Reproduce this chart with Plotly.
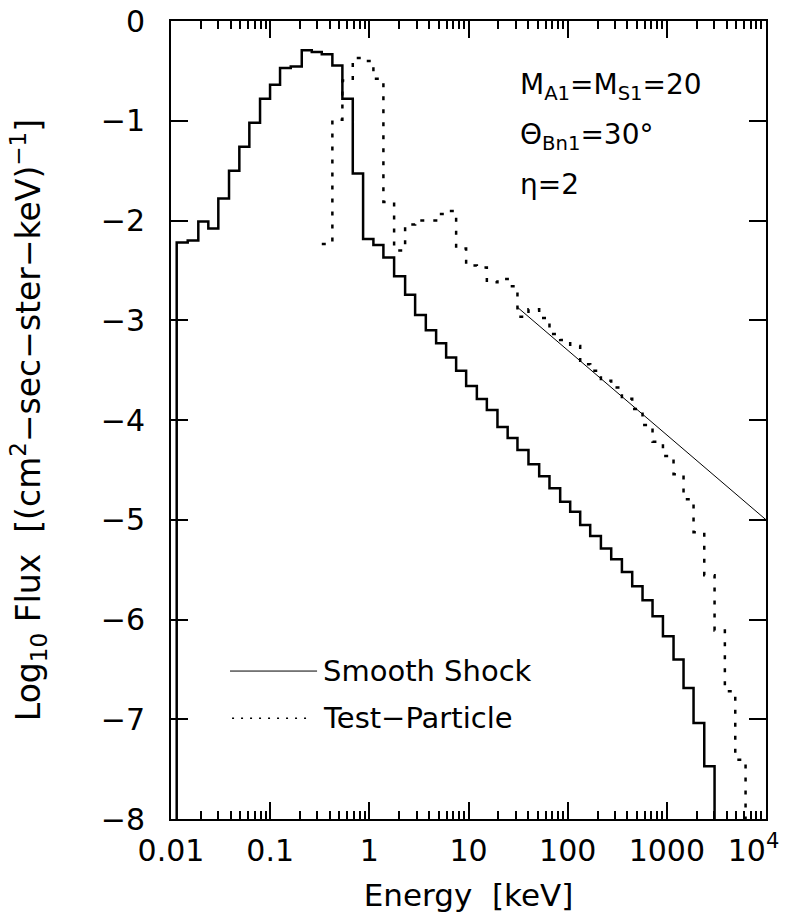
import plotly.graph_objects as go

# ---------------- data ----------------
# log10(Energy/keV) of histogram bin edges (shared by both histograms)
bin_log_edges = [
    -1.9425, -1.8315, -1.7246, -1.6237, -1.5228, -1.4149, -1.3109, -1.2100,
    -1.1021, -1.0012, -0.9003, -0.7924, -0.6814, -0.5805, -0.4796, -0.3727,
    -0.2718, -0.1669, -0.0630, 0.0410, 0.1418, 0.2498, 0.3608, 0.4617,
    0.5696, 0.6735, 0.7744, 0.8753, 0.9762, 1.0842, 1.1850, 1.2920,
    1.3949, 1.4937, 1.6047, 1.7127, 1.8166, 1.9245, 2.0254, 2.1263,
    2.2272, 2.3352, 2.4391, 2.5470, 2.6509, 2.7549, 2.8558, 2.9607,
    3.0676, 3.1685, 3.2694, 3.3774, 3.4813, 3.5851, 3.6900, 3.7940,
]

# Smooth shock: log10 flux per bin, starting at the first edge
smooth_first_edge = 0
smooth_flux = [
    -2.22, -2.20, -2.01, -2.08, -1.78, -1.50, -1.26, -1.02,
    -0.78, -0.64, -0.47, -0.455, -0.294, -0.31, -0.334, -0.445,
    -0.78, -1.53, -2.185, -2.245, -2.37, -2.56, -2.745, -2.948,
    -3.10, -3.23, -3.373, -3.507, -3.658, -3.79, -3.90, -4.07,
    -4.18, -4.30, -4.443, -4.563, -4.685, -4.82, -4.92, -5.053,
    -5.163, -5.287, -5.396, -5.525, -5.666, -5.806, -5.967, -6.168,
    -6.402, -6.687, -7.038, -7.47,
]

# Test-particle: log10 flux per bin, starting at edge index 14
tp_first_edge = 14
tp_flux = [
    -2.235, -0.99, -0.596, -0.37, -0.40, -0.58, -1.815, -2.30,
    -2.04, -2.00, -2.00, -1.935, -1.905, -2.28, -2.45, -2.47,
    -2.62, -2.586, -2.66, -2.965, -2.89, -2.978, -3.139, -3.199,
    -3.257, -3.44, -3.507, -3.607, -3.675, -3.788, -3.89, -4.05,
    -4.217, -4.36, -4.543, -4.795, -5.125, -5.556, -6.11, -6.72,
    -7.406,
]

# Power-law reference line (log10 E, log10 flux)
pl_log_energy = [1.4937, 4.0]
pl_flux = [-2.87, -5.0]

x_tick_vals = [0.01, 0.1, 1, 10, 100, 1000, 10000]
x_tick_text = ["0.01", "0.1", "1", "10", "100", "1000",
               "10<sup>4</sup>\u2007\u2009"]
y_tick_vals = [0, -1, -2, -3, -4, -5, -6, -7, -8]
y_tick_text = ["0", "\u22121", "\u22122", "\u22123", "\u22124", "\u22125",
               "\u22126", "\u22127", "\u22128"]

FLOOR = -9.0  # below the axis, so the histogram drops off the plot


def step_path(first_edge, values, start_from_floor, end_to_floor):
    edges = [10 ** e for e in bin_log_edges[first_edge:first_edge + len(values) + 1]]
    xs = list(edges[:len(values)])
    ys = list(values)
    if start_from_floor:
        xs = [edges[0]] + xs
        ys = [FLOOR] + ys
    xs = xs + [edges[len(values)]]
    ys = ys + [FLOOR if end_to_floor else values[-1]]
    return xs, ys


FONT = "DejaVu Sans"

fig = go.Figure()

sx, sy = step_path(smooth_first_edge, smooth_flux, True, True)
fig.add_trace(go.Scatter(x=sx, y=sy, mode="lines", line_shape="hv",
                         line=dict(color="black", width=2.5),
                         name="Smooth Shock", showlegend=False))

tx, ty = step_path(tp_first_edge, tp_flux, False, True)
fig.add_trace(go.Scatter(x=tx, y=ty, mode="lines", line_shape="hv",
                         line=dict(color="black", width=2.5, dash="4px,9px"),
                         name="Test-Particle", showlegend=False))

fig.add_trace(go.Scatter(x=[10 ** e for e in pl_log_energy], y=pl_flux,
                         mode="lines", line=dict(color="black", width=1),
                         showlegend=False))

axis_common = dict(
    showline=True, linecolor="black", linewidth=2, mirror="ticks",
    ticks="inside", ticklen=17, tickwidth=1.5, tickcolor="black",
    showgrid=False, zeroline=False, automargin=False,
    ticklabeloverflow="allow",
    tickfont=dict(family=FONT, size=30, color="black"),
)

fig.update_xaxes(
    type="log", range=[-2, 4],
    tickvals=x_tick_vals, ticktext=x_tick_text,
    minor=dict(ticks="inside", ticklen=8, tickwidth=1.5, tickcolor="black",
               dtick="D1", showgrid=False),
    title=dict(text="Energy  [keV]", font=dict(family=FONT, size=31, color="black"),
               standoff=17),
    ticklabelstandoff=4,
    **axis_common,
)
fig.update_yaxes(
    range=[-8, 0],
    tickvals=y_tick_vals, ticktext=y_tick_text,
    title=dict(text="Log<sub>10</sub> Flux  [(cm<sup>2</sup>\u2212sec\u2212ster\u2212keV)<sup>\u22121</sup>]",
               font=dict(family=FONT, size=33, color="black"), standoff=50),
    ticklabelstandoff=18,
    **axis_common,
)

# legend drawn as paper-anchored samples + labels
fig.add_shape(type="line", xref="paper", yref="paper",
              x0=0.0992, x1=0.2455, y0=0.1854, y1=0.1854,
              line=dict(color="black", width=1))
fig.add_shape(type="line", xref="paper", yref="paper",
              x0=0.1026, x1=0.2337, y0=0.1261, y1=0.1261,
              line=dict(color="black", width=1.5, dash="2px,7px"))
fig.add_annotation(xref="paper", yref="paper", x=0.2517, y=0.1854,
                   xanchor="left", yanchor="middle", showarrow=False,
                   text="Smooth Shock", font=dict(family=FONT, size=29, color="black"))
fig.add_annotation(xref="paper", yref="paper", x=0.2517, y=0.1261,
                   xanchor="left", yanchor="middle", showarrow=False,
                   text="Test\u2212Particle", font=dict(family=FONT, size=29, color="black"))

# parameter labels
for txt, yy in [("M<sub>A1</sub>=M<sub>S1</sub>=20", 0.9433),
                ("\u0398<sub>Bn1</sub>=30\u00b0", 0.8806),
                ("\u03b7=2", 0.8180)]:
    fig.add_annotation(xref="paper", yref="paper", x=0.5835, y=yy,
                       xanchor="left", yanchor="top", showarrow=False,
                       text=txt, font=dict(family=FONT, size=28, color="black"))

fig.update_layout(
    width=799, height=924,
    margin=dict(l=171, r=33, t=21, b=105),
    paper_bgcolor="white", plot_bgcolor="white",
    showlegend=False,
)

fig.write_html("out.html",
               config={"displayModeBar": False},
               post_script="document.body.style.margin='0';"
                           "document.body.style.overflow='hidden';")
